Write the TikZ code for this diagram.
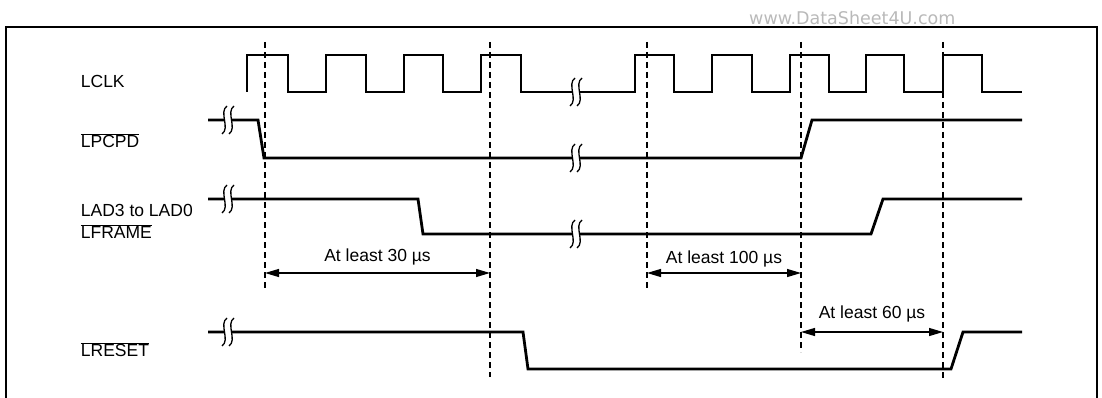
\documentclass[tikz,border=0pt]{standalone}
\usepackage{fontspec}
\setmainfont{Liberation Sans}
\newfontfamily\wmfont{DejaVu Sans}
\usetikzlibrary{arrows.meta}

\newcommand{\ovl}[1]{$\overline{\mbox{#1}}$}
% break mark on a signal line: two thin S-curves with a gap between them
\newcommand{\brk}[2]{%
  \fill[white] (#1-3,#2-3) rectangle (#1+3,#2+3);
  \foreach \dx in {-3.5,3.5} {
    \draw[brkline, shift={(#1,#2)}] (\dx+2.5,-14) .. controls (\dx-6,-8) and (\dx+6,8) .. (\dx-2.5,14);
  }
}

\begin{document}
\begin{tikzpicture}[x=1pt, y=-1pt,
    every node/.style={font=\fontsize{17.5}{21}\selectfont, inner sep=0pt},
    sig/.style={line width=2.8pt, line join=miter},
    frame/.style={line width=2.6pt},
    guide/.style={line width=1.2pt, dash pattern=on 6pt off 4pt},
    dim/.style={line width=1.2pt, {Triangle[length=14pt,width=8pt]}-{Triangle[length=14pt,width=8pt]}},
    brkline/.style={line width=1.3pt},
    wm/.style={font=\wmfont\fontsize{17.5}{20}\selectfont, text=gray!55}
  ]
    \useasboundingbox (0,0) rectangle (1102,398);
    \draw[frame] (6,404) -- (6,27) -- (1097,27) -- (1097,404);
    \node[wm, anchor=base west] (wmark) at (749,24.5) {www.DataSheet4U.com};

    % signal names
    \node[anchor=base west] (lclk) at (80.7,88) {LCLK};
    \node[anchor=base west] (lpcpd) at (80.7,148) {\ovl{LPCPD}};
    \node[anchor=base west] (lad) at (80.7,216.7) {LAD3 to LAD0};
    \node[anchor=base west] (lframe) at (80.7,238.3) {\ovl{LFRAME}};
    \node[anchor=base west] (lreset) at (80.7,356.7) {\ovl{LRESET}};

    % guide lines
    \foreach \n/\gx/\gy in {1/265/288, 2/490/377, 3/647/288, 4/801/352, 5/943/378} {
      \coordinate (g\n) at (\gx,42);
      \draw[guide] (g\n) -- (\gx,\gy);
    }

    % waveforms
    \draw[sig] (247,92) \foreach \r/\f in {247/288,326/366,404/443,481/521,635/674,712/752,790/829,866/904,943/982} {
      -- (\r,92) -- (\r,55) -- (\f,55) -- (\f,92) } -- (1022,92);
    \brk{576}{92}
    \draw[sig] (208,120) -- (258,120) -- (264,158) -- (801,158) -- (812,120) -- (1022,120);
    \brk{228}{120}
    \brk{576}{158}
    \draw[sig] (208,199) -- (418,199) -- (423,234) -- (871,234) -- (883,199) -- (1022,199);
    \brk{228}{199}
    \brk{576}{234}
    \draw[sig] (208,332) -- (523,332) -- (528,369) -- (951,369) -- (963,332) -- (1022,332);
    \brk{228}{332}

    % timing requirements
    \draw[dim] (g1 |- 0,273) -- node[above=7pt] (t30) {At least 30 µs} (g2 |- 0,273);
    \draw[dim] (g3 |- 0,273) -- node[above=5pt] (t100) {At least 100 µs} (g4 |- 0,273);
    \draw[dim] (g4 |- 0,332) -- node[above=9pt] (t60) {At least 60 µs} (g5 |- 0,332);
\end{tikzpicture}
\end{document}
